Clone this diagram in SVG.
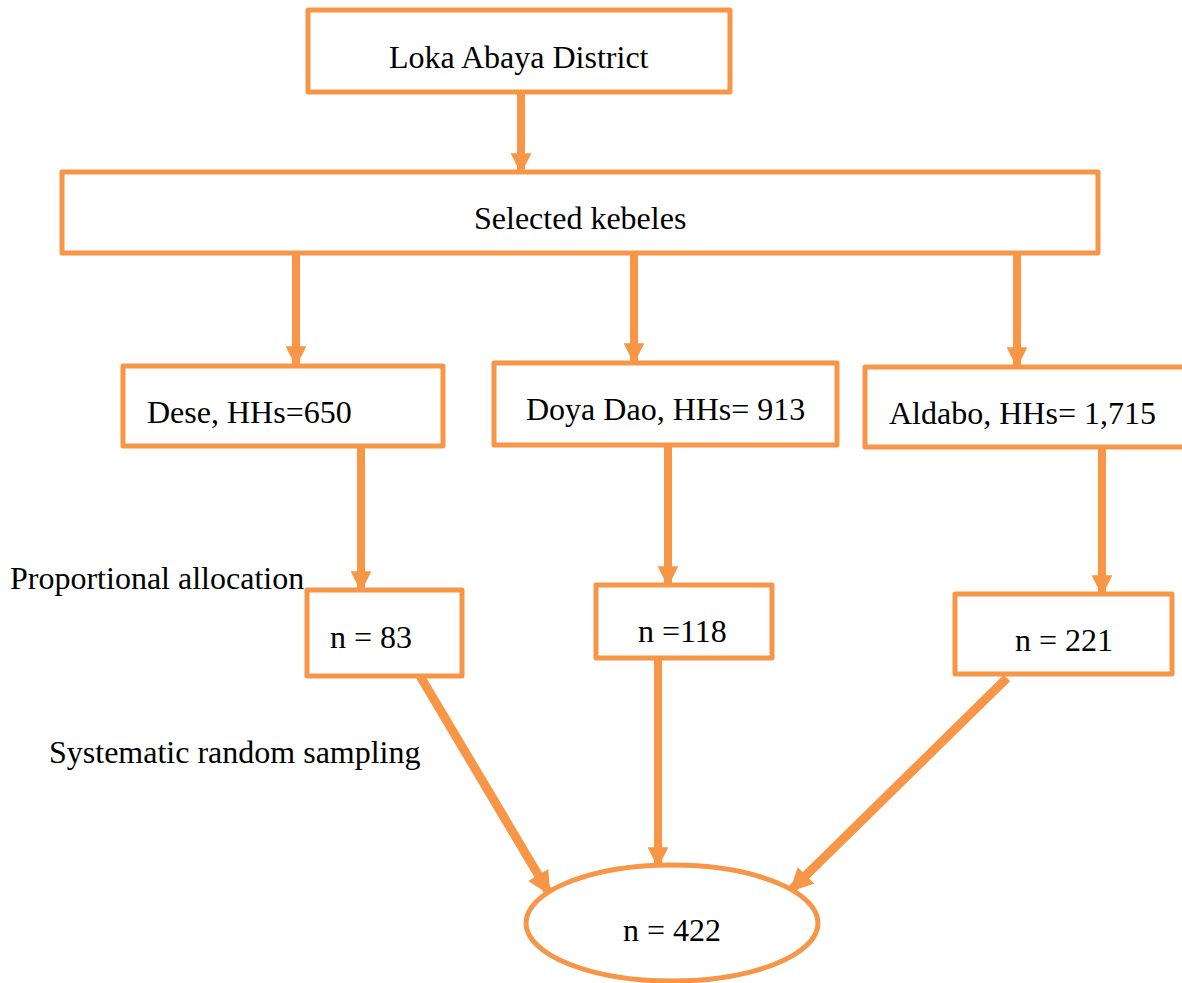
<svg xmlns="http://www.w3.org/2000/svg" width="1182" height="983" viewBox="0 0 1182 983">
<style>
.box{fill:#fff;stroke:#F79646;stroke-width:5;stroke-linejoin:round}
.ln{stroke:#F79646;stroke-width:8;fill:none}
.dg{stroke:#F79646;stroke-width:9;fill:none}
text{font-family:"Liberation Serif","Times New Roman",serif;font-size:32px;fill:#000}
</style>
<defs>
<marker id="ah" viewBox="0 0 10 10" refX="9" refY="5" markerWidth="2.6" markerHeight="2.6" orient="auto" markerUnits="strokeWidth">
<path d="M0,0 L10,5 L0,10 Z" fill="#F79646"/>
</marker>
</defs>
<rect width="1182" height="983" fill="#fff"/>
<g id="connectors">
<line class="ln" x1="521" y1="92" x2="521" y2="172" marker-end="url(#ah)"/>
<line class="ln" x1="296" y1="253" x2="296" y2="365" marker-end="url(#ah)"/>
<line class="ln" x1="634" y1="253" x2="634" y2="362" marker-end="url(#ah)"/>
<line class="ln" x1="1017" y1="253" x2="1017" y2="366" marker-end="url(#ah)"/>
<line class="ln" x1="361" y1="446" x2="361" y2="590" marker-end="url(#ah)"/>
<line class="ln" x1="668" y1="446" x2="668" y2="585" marker-end="url(#ah)"/>
<line class="ln" x1="1102" y1="447" x2="1102" y2="594" marker-end="url(#ah)"/>
<line class="dg" x1="420" y1="676" x2="549" y2="893" marker-end="url(#ah)"/>
<line class="ln" x1="658" y1="658" x2="658" y2="866" marker-end="url(#ah)"/>
<line class="dg" x1="1007" y1="678" x2="791" y2="890" marker-end="url(#ah)"/>
</g>
<g id="district"><rect class="box" x="308" y="10" width="422" height="82"/><text x="389" y="68">Loka Abaya District</text></g>
<g id="kebeles"><rect class="box" x="62" y="172" width="1036" height="81"/><text x="474" y="229">Selected kebeles</text></g>
<g id="dese"><rect class="box" x="123" y="366" width="320" height="80"/><text x="147" y="423">Dese, HHs=650</text></g>
<g id="doya"><rect class="box" x="494" y="363" width="343" height="82"/><text x="526" y="420">Doya Dao, HHs= 913</text></g>
<g id="aldabo"><rect class="box" x="865" y="367" width="330" height="80"/><text x="889" y="424">Aldabo, HHs= 1,715</text></g>
<g id="n83"><rect class="box" x="307" y="590" width="155" height="86"/><text x="330" y="648">n = 83</text></g>
<g id="n118"><rect class="box" x="596" y="585" width="176" height="73"/><text x="638" y="642">n =118</text></g>
<g id="n221"><rect class="box" x="955" y="594" width="217" height="80"/><text x="1015" y="651">n = 221</text></g>
<g id="total"><ellipse class="box" cx="672" cy="923" rx="146" ry="58"/><text x="623" y="941">n = 422</text></g>
<g id="labels">
<text x="10" y="589">Proportional allocation</text>
<text x="49" y="763">Systematic random sampling</text>
</g>
</svg>
